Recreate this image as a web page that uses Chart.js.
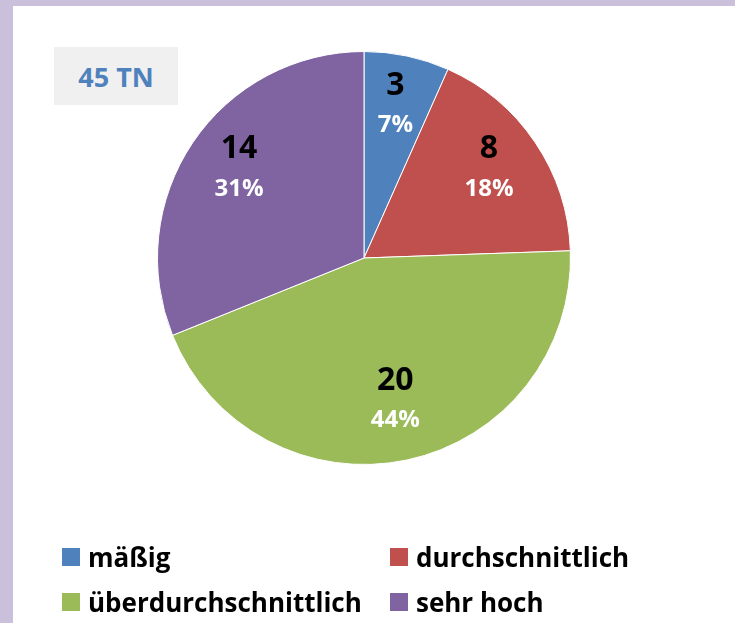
<!DOCTYPE html>
<html>
<head>
<meta charset="utf-8">
<script src="https://cdn.jsdelivr.net/npm/chart.js@4"></script>
<style>
  html, body { margin: 0; padding: 0; }
  body { width: 735px; height: 623px; background: #cbc0dc; position: relative; overflow: hidden; font-family: "Open Sans", sans-serif; }
  #panel { position: absolute; left: 13px; top: 6px; right: 0; bottom: 0; background: #ffffff; }
  #chartBox { position: absolute; left: 0; top: 0; width: 735px; height: 623px; }
  #tn { position: absolute; left: 54px; top: 47px; width: 124px; height: 58px; background: #f0f0f0;
        color: #4f81bd; font-weight: bold; font-size: 27px; display: flex; align-items: center; justify-content: center; }
  .leg { position: absolute; display: flex; align-items: center; font-weight: bold; font-size: 26px; color: #000; height: 32px; }
  .leg span.box { display: inline-block; width: 18px; height: 18px; margin-right: 8px; }
</style>
</head>
<body>
<div id="panel"></div>
<div id="chartBox"><canvas id="pie"></canvas></div>
<div id="tn">45 TN</div>
<div id="legend"></div>
<script>
// Kategorien und Werte
const categories = ["mäßig", "durchschnittlich", "überdurchschnittlich", "sehr hoch"];
const counts = [3, 8, 20, 14];
const colors = ["#4f81bd", "#c0504d", "#9bbb59", "#8064a2"];

const total = counts.reduce((a, b) => a + b, 0);

// Legende (2 Spalten, wie im Original)
const legendPos = [[62, 541], [390, 541], [62, 586], [390, 586]];
const legendDiv = document.getElementById("legend");
categories.forEach((name, i) => {
  const item = document.createElement("div");
  item.className = "leg";
  item.style.left = legendPos[i][0] + "px";
  item.style.top = legendPos[i][1] + "px";
  item.innerHTML = '<span class="box" style="background:' + colors[i] + '"></span>' + name;
  legendDiv.appendChild(item);
});

// Beschriftung in den Stücken: Anzahl + Prozent
const sliceLabels = {
  id: "sliceLabels",
  afterDatasetsDraw(chart) {
    const ctx = chart.ctx;
    const meta = chart.getDatasetMeta(0);
    meta.data.forEach((arc, i) => {
      const p = arc.getProps(["x", "y", "startAngle", "endAngle", "outerRadius"], true);
      const mid = (p.startAngle + p.endAngle) / 2;
      const r = p.outerRadius * 0.73;
      const x = p.x + Math.cos(mid) * r;
      const y = p.y + Math.sin(mid) * r - 5;
      ctx.save();
      ctx.textAlign = "center";
      ctx.textBaseline = "middle";
      ctx.fillStyle = "#000000";
      ctx.font = "bold 32px 'Open Sans'";
      ctx.fillText(String(counts[i]), x, y - 20);
      ctx.fillStyle = "#ffffff";
      ctx.font = "bold 24px 'Open Sans'";
      ctx.fillText(Math.round(counts[i] / total * 100) + "%", x, y + 20);
      ctx.restore();
    });
  }
};

new Chart(document.getElementById("pie"), {
  type: "pie",
  data: {
    labels: categories,
    datasets: [{
      data: counts,
      backgroundColor: colors,
      borderColor: "#ffffff",
      borderWidth: 1
    }]
  },
  options: {
    responsive: true,
    maintainAspectRatio: false,
    animation: false,
    layout: { padding: { left: 157, right: 164, top: 51, bottom: 158 } },
    plugins: {
      legend: { display: false },
      tooltip: { enabled: false }
    }
  },
  plugins: [sliceLabels]
});
</script>
</body>
</html>
